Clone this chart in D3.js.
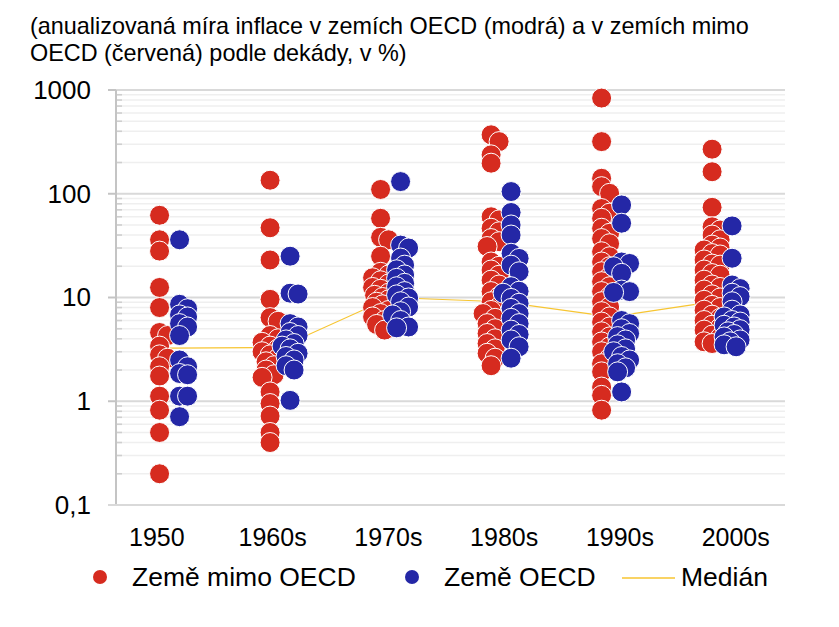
<!DOCTYPE html>
<html>
<head>
<meta charset="utf-8">
<script src="https://cdn.jsdelivr.net/npm/d3@7"></script>
<style>
  html, body { margin: 0; padding: 0; background: #fff; }
  svg { display: block; font-family: "Liberation Sans", Arial, sans-serif; }
</style>
</head>
<body>
<svg id="chart" width="839" height="627"></svg>
<script>
// ---------- DATA ----------
const categories = ["1950", "1960s", "1970s", "1980s", "1990s", "2000s"];
const titleLines = [
  "(anualizovaná míra inflace v zemích OECD (modrá) a v zemích mimo",
  "OECD (červená) podle dekády, v %)"
];
const yTickValues = [0.1, 1, 10, 100, 1000];
const yTickLabels = ["0,1", "1", "10", "100", "1000"];
const legendLabels = ["Země mimo OECD", "Země OECD", "Medián"];

// non-OECD countries (red), per decade
const nonOecd1950 = [62, 36, 28, 12.5, 8, 4.6, 4.3, 3.4, 2.8, 2.6, 2.15, 1.75, 1.12, 0.82, 0.5, 0.2];
const nonOecd1960s = [135, 47, 23, 9.6, 6.4, 5.9, 4.3, 4.0, 3.7, 3.4, 3.2, 3.0, 2.8, 2.6, 2.4, 2.2, 2.0, 1.8, 1.7, 1.23, 0.95, 0.72, 0.5, 0.4];
const nonOecd1970s = [110, 58, 38, 36, 25, 17.5, 16.5, 15.5, 14.5, 13.5, 12.5, 12, 11, 10.5, 10, 9.5, 9, 8.5, 8, 7.5, 7, 6.5, 6, 5.5, 4.85];
const nonOecd1980s = [370, 318, 237, 197, 60, 56, 46.5, 43, 37, 34.5, 31, 22, 20, 18.4, 16.4, 14.7, 13.2, 11.4, 10.2, 9.1, 8.1, 7.5, 7.0, 6.3, 5.6, 5.0, 4.5, 4.0, 3.6, 3.2, 2.9, 2.6, 2.2];
const nonOecd1990s = [836, 318, 141, 117, 101, 72, 65, 58, 46.5, 41.6, 37, 33, 27.6, 24.7, 22, 19.8, 17.7, 15.8, 14.2, 12.7, 11.4, 10.2, 9.1, 8.1, 7.3, 6.5, 5.8, 5.2, 4.67, 4.17, 3.73, 3.34, 3.0, 2.6, 2.3, 1.92, 1.37, 1.14, 0.82];
const nonOecd2000s = [269, 163, 74, 48, 44.7, 40, 36, 32, 30, 28.7, 26.5, 25.7, 23, 21, 20.5, 18.4, 17, 16.4, 14.7, 13.2, 12.5, 11.8, 10.6, 9.9, 9.4, 8.4, 8, 7.55, 6.76, 6.3, 6.0, 5.4, 5.1, 4.85, 4.34, 4.1, 3.74, 3.6];

// OECD countries (blue), per decade
const oecd1950 = [36, 8.6, 7.8, 6.8, 6.5, 5.6, 5.2, 4.3, 2.5, 2.15, 1.85, 1.8, 1.12, 1.12, 0.71];
const oecd1960s = [25, 11, 10.8, 5.6, 5.2, 4.6, 4.3, 3.9, 3.6, 3.4, 3.2, 2.9, 2.7, 2.5, 2.2, 2.0, 1.02];
const oecd1970s = [131, 32, 30, 24, 20.5, 18.5, 16.5, 15.3, 13.7, 12.7, 11.4, 10.6, 9.9, 9.1, 8.1, 7.3, 6.8, 6.0, 5.2, 5.1];
const oecd1980s = [105, 66, 50, 40, 26.7, 23.8, 20.5, 17.7, 12.7, 11.5, 11, 9.8, 8.8, 7.85, 7.0, 6.3, 5.6, 4.85, 4.4, 3.9, 3.35, 2.6];
const oecd1990s = [78, 52, 22, 21.3, 19.8, 17.1, 11.8, 11.4, 11.2, 6.0, 5.6, 5.0, 4.5, 4.2, 3.9, 3.5, 3.2, 3.0, 2.7, 2.5, 2.3, 2.1, 1.92, 1.23];
const oecd2000s = [49, 23.9, 13.2, 12.2, 11, 10.2, 9.1, 7.55, 6.8, 6.5, 6.0, 5.8, 5.4, 5.2, 4.9, 4.67, 4.4, 4.17, 3.9, 3.74, 3.5, 3.35];

// median per decade
const medianValues = [3.25, 3.3, 10, 9.1, 6.5, 9.4];

const nonOecdSeries = [nonOecd1950, nonOecd1960s, nonOecd1970s, nonOecd1980s, nonOecd1990s, nonOecd2000s];
const oecdSeries = [oecd1950, oecd1960s, oecd1970s, oecd1980s, oecd1990s, oecd2000s];

// ---------- STYLE ----------
const RED = "#d62b1f";
const BLUE = "#2427a6";
const GOLD = "#f7c531";

const svg = d3.select("#chart");
const plot = { left: 116, right: 785, top: 90, bottom: 505 };

const y = d3.scaleLog().domain([0.1, 1000]).range([plot.bottom, plot.top]);
const x = d3.scalePoint().domain(categories).range([plot.left, plot.right]).padding(0.527).align(0.46);
const xLabel = d3.scalePoint().domain(categories).range([plot.left, plot.right]).padding(0.389).align(0.453);

// title
svg.append("g").selectAll("text").data(titleLines).join("text")
  .attr("x", 30).attr("y", (d, i) => 34 + i * 26.5)
  .attr("font-size", 23.4).attr("fill", "#000").text(d => d);

// gridlines
const allTicks = y.ticks();
const isMajor = t => Math.abs(Math.log10(t) - Math.round(Math.log10(t))) < 1e-9;
const grid = svg.append("g");
grid.selectAll("line.minor").data(allTicks.filter(t => !isMajor(t))).join("line")
  .attr("class", "minor")
  .attr("x1", plot.left).attr("x2", plot.right)
  .attr("y1", d => y(d)).attr("y2", d => y(d))
  .attr("stroke", "#efefef").attr("stroke-width", 1.6);
grid.selectAll("line.major").data(yTickValues.filter(t => t > 0.1)).join("line")
  .attr("class", "major")
  .attr("x1", plot.left).attr("x2", plot.right)
  .attr("y1", d => y(d)).attr("y2", d => y(d))
  .attr("stroke", "#d9d9d9").attr("stroke-width", 2);
// minor tick marks (inside)
grid.selectAll("line.mtick").data(allTicks.filter(t => !isMajor(t))).join("line")
  .attr("x1", plot.left).attr("x2", plot.left + 6)
  .attr("y1", d => y(d)).attr("y2", d => y(d))
  .attr("stroke", "#cfcfcf").attr("stroke-width", 1.6);
// major tick marks (outside)
grid.selectAll("line.Mtick").data(yTickValues).join("line")
  .attr("x1", plot.left - 8).attr("x2", plot.left)
  .attr("y1", d => y(d)).attr("y2", d => y(d))
  .attr("stroke", "#c4c4c4").attr("stroke-width", 2);
// axes lines
svg.append("line").attr("x1", plot.left).attr("x2", plot.left)
  .attr("y1", plot.top).attr("y2", plot.bottom)
  .attr("stroke", "#c4c4c4").attr("stroke-width", 2);
svg.append("line").attr("x1", plot.left - 8).attr("x2", plot.right)
  .attr("y1", plot.bottom).attr("y2", plot.bottom)
  .attr("stroke", "#d9d9d9").attr("stroke-width", 2);

// y tick labels
svg.append("g").selectAll("text").data(yTickValues).join("text")
  .attr("x", 91).attr("y", d => y(d)).attr("dy", "0.34em")
  .attr("text-anchor", "end").attr("font-size", 26).attr("fill", "#000")
  .text((d, i) => yTickLabels[i]);

// x labels
svg.append("g").selectAll("text").data(categories).join("text")
  .attr("x", d => xLabel(d)).attr("y", 546)
  .attr("text-anchor", "middle").attr("font-size", 25).attr("fill", "#000")
  .text(d => d);

// median line (beneath dots)
svg.append("path")
  .datum(medianValues)
  .attr("fill", "none").attr("stroke", GOLD).attr("stroke-width", 1.2)
  .attr("d", d3.line().x((d, i) => x(categories[i])).y(d => y(d)));

// deterministic beeswarm-like placement (tight column per series)
function layout(values, cx, side) {
  const pts = values.map(v => ({ v, py: y(v) })).sort((a, b) => a.py - b.py);
  const placed = [];
  const base = cx + side * 10;
  const offsets = [0, 4, -4, 8, -8, 2, -2, 6, -6];
  for (const p of pts) {
    let best = base, bestD = -1, chosen = null;
    for (const o of offsets) {
      const px = base + o;
      let d = Infinity;
      for (const q of placed) {
        const dd = Math.hypot(px - q.px, p.py - q.py);
        if (dd < d) d = dd;
      }
      if (d >= 8) { chosen = px; break; }
      if (d > bestD) { bestD = d; best = px; }
    }
    p.px = chosen !== null ? chosen : best;
    placed.push(p);
  }
  return placed;
}

const R = 10;
const dots = svg.append("g");
categories.forEach((c, i) => {
  const red = layout(nonOecdSeries[i], x(c), -1);
  dots.append("g").selectAll("circle").data(red).join("circle")
    .attr("cx", d => d.px).attr("cy", d => d.py).attr("r", R)
    .attr("fill", RED).attr("stroke", "#fff").attr("stroke-width", 1);
});
categories.forEach((c, i) => {
  const blue = layout(oecdSeries[i], x(c), 1);
  dots.append("g").selectAll("circle").data(blue).join("circle")
    .attr("cx", d => d.px).attr("cy", d => d.py).attr("r", R)
    .attr("fill", BLUE).attr("stroke", "#fff").attr("stroke-width", 1);
});

// legend
const lg = svg.append("g").attr("font-size", 26.5).attr("fill", "#000");
lg.append("circle").attr("cx", 100).attr("cy", 577).attr("r", 7).attr("fill", RED);
lg.append("text").attr("x", 132).attr("y", 586).text(legendLabels[0]);
lg.append("circle").attr("cx", 412).attr("cy", 577).attr("r", 7).attr("fill", BLUE);
lg.append("text").attr("x", 444).attr("y", 586).text(legendLabels[1]);
lg.append("line").attr("x1", 622).attr("x2", 675).attr("y1", 578).attr("y2", 578)
  .attr("stroke", GOLD).attr("stroke-width", 1.5);
lg.append("text").attr("x", 681).attr("y", 586).text(legendLabels[2]);
</script>
</body>
</html>
